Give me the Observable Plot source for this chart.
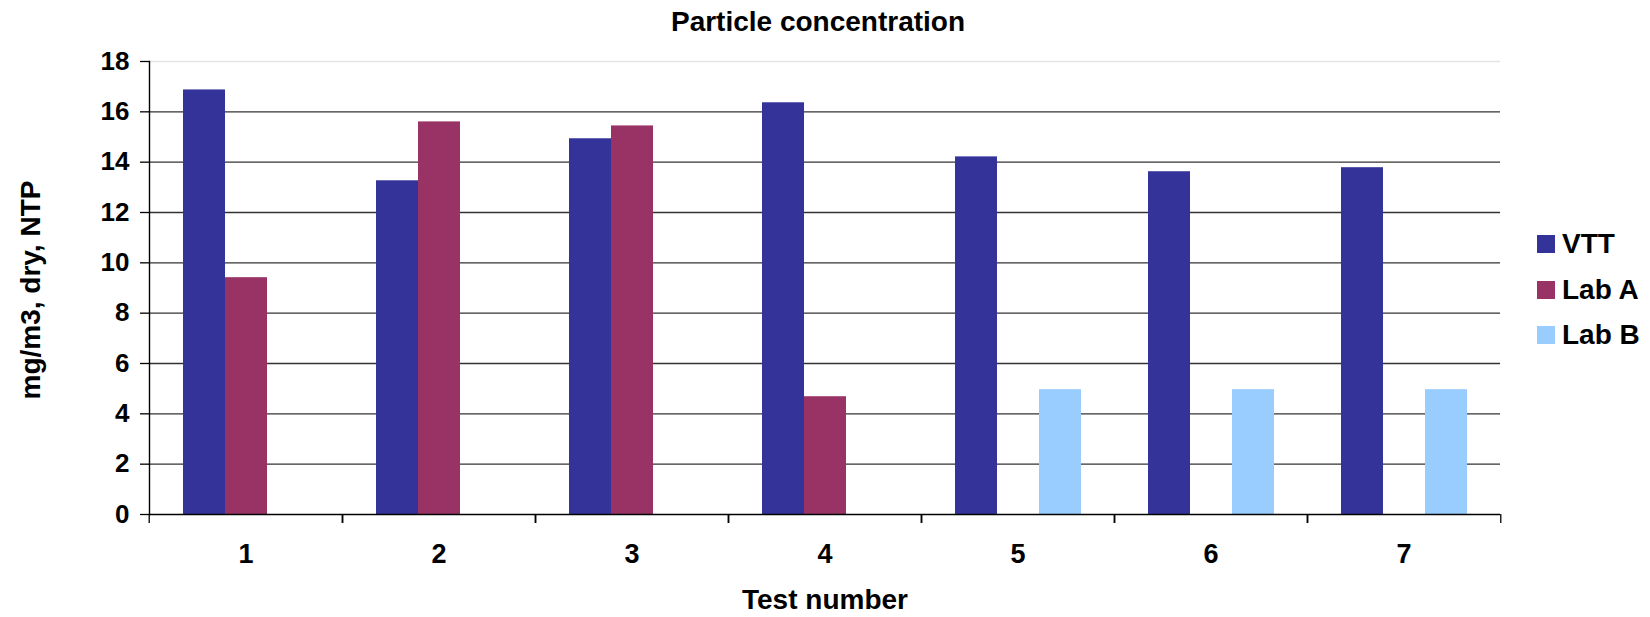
<!DOCTYPE html>
<html><head><meta charset="utf-8">
<script src="https://cdn.jsdelivr.net/npm/d3@7"></script>
<script src="https://cdn.jsdelivr.net/npm/@observablehq/plot@0.6"></script>
<style>
body{margin:0;background:#fff;}
#wrap{position:relative;width:1650px;height:617px;overflow:hidden;font-family:"Liberation Sans",Arial,sans-serif;font-weight:bold;color:#000;}
.lbl{position:absolute;white-space:nowrap;}
#title{left:818px;top:8px;font-size:28px;line-height:27px;transform:translateX(-50%);}
#xlabel{left:825px;top:590px;font-size:28px;line-height:20px;transform:translateX(-50%);}
#ylabel{left:-169px;top:276px;width:400px;text-align:center;font-size:28px;line-height:28px;transform:rotate(-90deg);transform-origin:200px 14px;}
.leg{position:absolute;left:1537px;font-size:28px;line-height:28px;display:flex;align-items:center;white-space:nowrap;}
.sw{width:18px;height:18px;margin-right:7px;display:inline-block;}
</style></head><body><div id="wrap"></div>
<script>
const tests = ["1","2","3","4","5","6","7"];
const seriesNames = ["VTT","Lab A","Lab B"];
const seriesColors = ["#333399","#993366","#99CCFF"];
const vtt  = [16.87, 13.26, 14.93, 16.36, 14.21, 13.62, 13.78];
const labA = [9.41, 15.60, 15.44, 4.68, null, null, null];
const labB = [null, null, null, null, 4.96, 4.96, 4.96];
const yTicks = [0, 2, 4, 6, 8, 10, 12, 14, 16, 18];
const titleText = "Particle concentration";
const xTitle = "Test number";
const yTitle = "mg/m3, dry, NTP";

const seriesValues = [vtt, labA, labB];
const rows = [];
tests.forEach((t, i) => seriesNames.forEach((s, j) => {
  const v = seriesValues[j][i];
  if (v != null) rows.push({test: t, series: s, value: v});
}));

const W = 1650, H = 617, mL = 147, mR = 148, mT = 61, mB = 103;
const step = (W - mL - mR) / tests.length;

const chart = Plot.plot({
  width: W, height: H,
  marginLeft: mL, marginRight: mR, marginTop: mT, marginBottom: mB,
  style: {fontFamily: '"Liberation Sans", Arial, sans-serif', fontWeight: "bold", fontSize: "26px", color: "#000", background: "transparent", overflow: "visible"},
  fx: {domain: tests, padding: 0, label: null},
  x: {domain: seriesNames, paddingInner: 0, paddingOuter: 0.75, axis: null},
  y: {domain: [0, 18], label: null},
  color: {domain: seriesNames, range: seriesColors},
  marks: [
    Plot.gridY(yTicks.filter(t => t > 0 && t < 18), {stroke: "#333", strokeOpacity: 1, strokeWidth: 1.3}),
    Plot.gridY([18], {stroke: "#e4e4e4", strokeOpacity: 1, strokeWidth: 1.3}),
    Plot.barY(rows, {fx: "test", x: "series", y: "value", fill: "series"}),
    Plot.ruleY([0], {stroke: "#000", strokeWidth: 1.6}),
    Plot.frame({anchor: "left", facetAnchor: "left", stroke: "#000", strokeWidth: 1.4}),
    Plot.axisY(yTicks, {tickSize: 9, tickPadding: 11, label: null, fontSize: 26, stroke: "#000", strokeWidth: 1.3}),
    Plot.axisFx({anchor: "bottom", tickSize: 0, tickPadding: 29, label: null, fontSize: 27}),
    Plot.axisFx({anchor: "bottom", tickSize: 9, fill: "none", label: null, dx: -step / 2, stroke: "#000", strokeWidth: 1.3}),
    Plot.axisFx([tests[tests.length - 1]], {anchor: "bottom", tickSize: 9, fill: "none", label: null, dx: step / 2, stroke: "#000", strokeWidth: 1.3})
  ]
});

const wrap = document.getElementById("wrap");
wrap.appendChild(chart);
chart.style.position = "absolute";
chart.style.left = "0px";
chart.style.top = "0px";

function addLabel(id, text) {
  const d = document.createElement("div");
  d.className = "lbl"; d.id = id; d.textContent = text;
  wrap.appendChild(d);
}
addLabel("title", titleText);
addLabel("xlabel", xTitle);
addLabel("ylabel", yTitle);

const legTops = [230, 276, 321];
seriesNames.forEach((s, i) => {
  const row = document.createElement("div");
  row.className = "leg";
  row.style.top = legTops[i] + "px";
  const sw = document.createElement("span");
  sw.className = "sw"; sw.style.background = seriesColors[i];
  const tx = document.createElement("span");
  tx.textContent = s;
  row.appendChild(sw); row.appendChild(tx);
  wrap.appendChild(row);
});
</script>
</body></html>
